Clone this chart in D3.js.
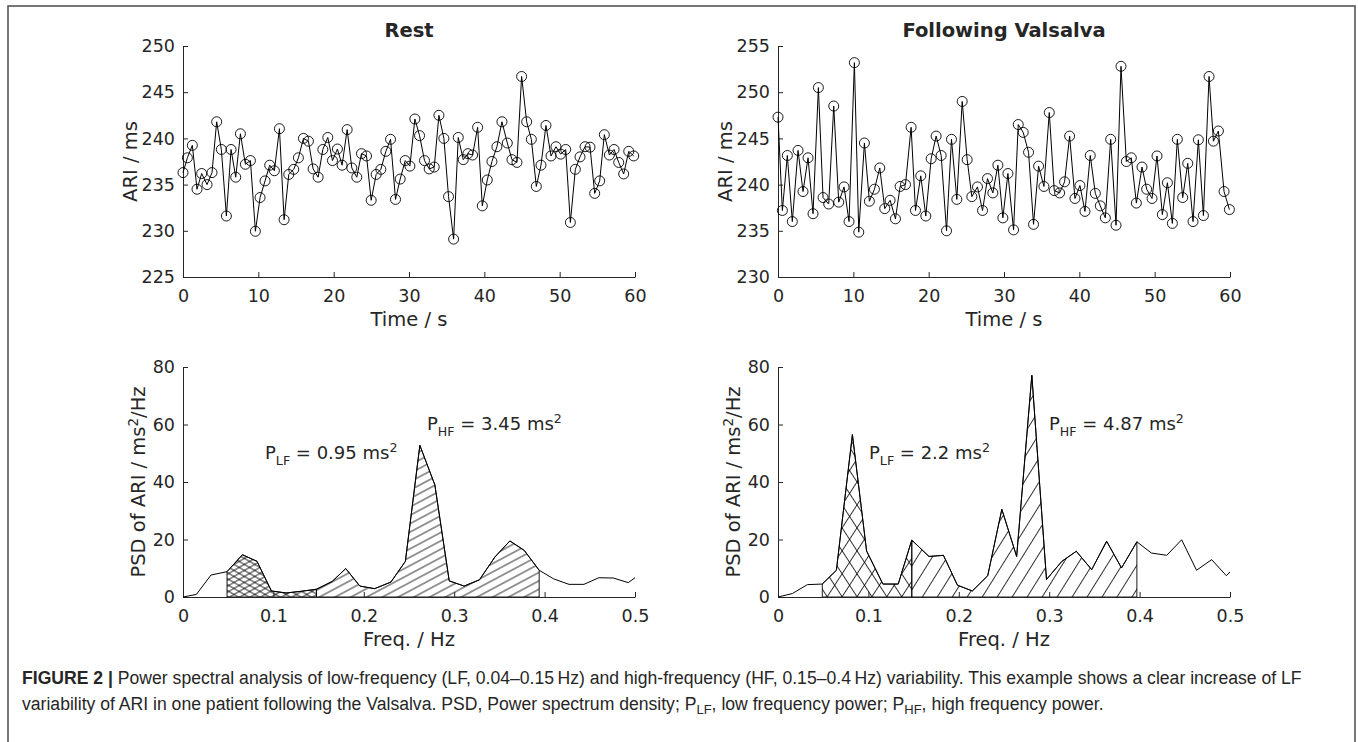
<!DOCTYPE html>
<html>
<head>
<meta charset="utf-8">
<script src="https://cdn.jsdelivr.net/npm/d3@7"></script>
<style>
  html,body{margin:0;padding:0;background:#fff;}
  text{font-family:"DejaVu Sans",sans-serif;fill:#262626;}
  .cap text,.cap{font-family:"Liberation Sans",Arial,sans-serif;}
</style>
</head>
<body>
<div id="chart"></div>
<script>
// ARI beat series, rest
const restTime=[0,0.58,1.24,1.86,2.48,3.19,3.85,4.47,5.09,5.76,6.38,7.00,7.62,8.28,8.95,9.61,10.23,10.89,11.51,12.13,
  12.80,13.42,14.04,14.70,15.32,15.99,16.65,17.27,17.94,18.56,19.22,19.84,20.50,21.12,21.79,22.41,23.07,23.69,24.36,24.98,
  25.64,26.26,26.93,27.55,28.21,28.83,29.50,30.12,30.78,31.40,32.06,32.68,33.35,33.97,34.63,35.25,35.92,36.54,37.20,37.82,
  38.44,39.11,39.73,40.39,41.01,41.67,42.34,43.05,43.67,44.33,44.95,45.62,46.24,46.90,47.52,48.18,48.85,49.51,50.13,50.80,
  51.42,52.08,52.70,53.37,54.03,54.65,55.31,55.93,56.60,57.22,57.84,58.50,59.17,59.83];
const restARI=[236.3,237.9,239.25,234.5,236.2,235.0,236.3,241.8,238.8,231.6,238.8,235.8,240.5,237.2,237.6,229.95,233.6,235.4,237.1,236.5,
  241.05,231.2,236.1,236.65,237.9,240.0,239.7,236.7,235.8,238.8,240.1,237.6,238.85,237.1,240.95,236.8,235.8,238.35,238.1,233.3,
  236.1,236.65,238.6,239.9,233.4,235.6,237.6,237.0,242.1,240.3,237.6,236.7,236.9,242.5,240.0,233.7,229.1,240.1,237.7,238.35,
  238.2,241.2,232.7,235.5,237.5,239.1,241.8,239.5,237.7,237.4,246.7,241.8,239.9,234.8,237.1,241.4,238.1,239.1,238.3,238.8,
  230.9,236.65,238.0,239.1,239.05,234.05,235.4,240.4,238.2,238.8,237.4,236.15,238.6,238.1];

// ARI beat series, following Valsalva
const valsTime=[0,0.58,1.24,1.90,2.66,3.32,3.99,4.65,5.36,5.98,6.73,7.40,8.06,8.77,9.43,10.14,10.72,11.47,12.13,12.80,
  13.51,14.17,14.88,15.59,16.21,16.92,17.67,18.25,18.95,19.62,20.33,20.99,21.66,22.37,23.03,23.74,24.45,25.11,25.73,26.48,
  27.15,27.81,28.52,29.19,29.85,30.52,31.27,31.89,32.55,33.26,33.92,34.59,35.30,36.01,36.67,37.38,38.04,38.71,39.42,40.08,
  40.75,41.45,42.12,42.78,43.45,44.16,44.87,45.53,46.24,46.90,47.57,48.32,48.94,49.65,50.31,51.02,51.69,52.35,53.01,53.72,
  54.39,55.09,55.80,56.47,57.22,57.80,58.46,59.21,59.92];
const valsARI=[247.3,237.2,243.15,236.0,243.7,239.25,242.9,236.85,250.5,238.6,237.9,248.5,238.1,239.75,236.0,253.2,234.85,244.5,238.2,239.5,
  241.8,237.4,238.3,236.3,239.8,240.0,246.2,237.2,240.95,236.6,242.8,245.25,243.15,235.0,244.9,238.4,249.0,242.7,238.7,239.75,
  237.2,240.65,239.1,242.1,236.4,241.2,235.1,246.5,245.65,243.5,235.7,242.0,239.8,247.8,239.35,239.1,240.3,245.25,238.5,239.9,
  237.1,243.15,239.05,237.7,236.4,244.9,235.6,252.8,242.5,242.9,238.0,241.9,239.5,238.5,243.1,236.75,240.2,235.8,244.9,238.6,
  242.3,236.0,244.85,236.65,251.7,244.7,245.8,239.25,237.3];

// PSD, rest
const restFreq=[0,0.0148,0.031,0.0487,0.0657,0.0819,0.0978,0.114,0.131,0.1476,0.165,0.180,0.1956,0.212,0.230,0.246,
  0.262,0.2786,0.2945,0.311,0.328,0.345,0.3616,0.3775,0.394,0.410,0.427,0.4435,0.460,0.476,0.4926,0.5];
const restPSD=[0,0.9,7.65,8.8,14.7,12.4,2.1,1.4,2.0,2.7,5.4,9.9,3.8,2.9,5.2,12.4,
  52.75,39.0,5.6,3.8,6.0,13.9,19.5,16.2,9.3,6.3,4.4,4.4,6.7,6.6,5.0,6.7];
// PSD, following Valsalva
const valsFreq=[0,0.0159,0.0325,0.049,0.0646,0.0823,0.098,0.116,0.133,0.148,0.167,0.183,0.1985,0.215,0.232,0.2476,
  0.264,0.2808,0.297,0.314,0.330,0.347,0.3635,0.380,0.397,0.413,0.430,0.4465,0.463,0.4797,0.496,0.5];
const valsPSD=[0,1.2,4.3,4.5,9.3,56.5,16.0,4.5,4.5,19.8,14.1,14.5,4.1,2.1,7.4,30.5,
  14.1,77.1,6.1,12.4,15.9,9.5,19.4,10.1,19.2,15.3,14.5,19.9,9.3,13.0,7.4,8.7];

// shaded band edges (first / last bin inside each band)
const restLF=[0.0487,0.1476], restHF=[0.1476,0.394];
const valsLF=[0.049,0.148],  valsHF=[0.148,0.397];

const titles=["Rest","Following Valsalva"];
const powerLF=["0.95","2.2"];
const powerHF=["3.45","4.87"];
const timeTicks=[0,10,20,30,40,50,60];
const restTicks=[225,230,235,240,245,250];
const valsTicks=[230,235,240,245,250,255];
const freqTicks=[0,0.1,0.2,0.3,0.4,0.5];
const psdTicks=[0,20,40,60,80];

const W=1358,H=742;
const svg=d3.select("#chart").append("svg").attr("width",W).attr("height",H);

// outer frame
svg.append("rect").attr("x",8).attr("y",6).attr("width",1347).attr("height",800)
   .attr("fill","none").attr("stroke","#555").attr("stroke-width",1.6);

const defs=svg.append("defs");
function hatch(id,rot,gap){
  const p=defs.append("pattern").attr("id",id).attr("patternUnits","userSpaceOnUse")
    .attr("width",gap).attr("height",gap).attr("patternTransform",`rotate(${rot})`);
  p.append("line").attr("x1",gap/2).attr("x2",gap/2).attr("y1",-1).attr("y2",gap+1)
    .attr("stroke","#000").attr("stroke-width",0.8);
}
// left spectra: shallow hatching; right spectra: steep hatching
hatch("lfL1",60,5.2); hatch("lfL2",-60,5.2); hatch("hfL",62,7.4);
hatch("lfR1",33,12.5); hatch("lfR2",-33,12.5); hatch("hfR",32,12.7);

const cols=[{x0:183,x1:635},{x0:778,x1:1230}];
const topY=[46,277], botY=[367,597];

function axes(g,x,y,xt,yt,fmt){
  const ax=g.append("g").attr("transform",`translate(0,${y.range()[0]})`)
    .call(d3.axisBottom(x).tickValues(xt).tickSize(-5).tickSizeOuter(0).tickPadding(8).tickFormat(fmt));
  const ay=g.append("g").attr("transform",`translate(${x.range()[0]},0)`)
    .call(d3.axisLeft(y).tickValues(yt).tickSize(-5).tickSizeOuter(0).tickPadding(8));
  [ax,ay].forEach(a=>{
    a.selectAll("path,line").attr("stroke","#262626");
    a.selectAll("text").attr("fill","#262626").style("font-family","DejaVu Sans").style("font-size","17.5px");
  });
  ax.selectAll("text").attr("dy","0.95em");
}

function timePanel(i,t,v,yt){
  const c=cols[i];
  const x=d3.scaleLinear().domain([0,60]).range([c.x0,c.x1]);
  const y=d3.scaleLinear().domain([yt[0],yt[yt.length-1]]).range([topY[1],topY[0]]);
  const g=svg.append("g");
  axes(g,x,y,timeTicks,yt,d3.format("d"));
  const pts=t.map((d,k)=>[d,v[k]]);
  g.append("path").datum(pts).attr("fill","none").attr("stroke","#000").attr("stroke-width",1)
    .attr("d",d3.line().x(d=>x(d[0])).y(d=>y(d[1])));
  g.selectAll("circle").data(pts).enter().append("circle")
    .attr("cx",d=>x(d[0])).attr("cy",d=>y(d[1])).attr("r",5)
    .attr("fill","none").attr("stroke","#000").attr("stroke-width",0.9);
  g.append("text").attr("x",(c.x0+c.x1)/2).attr("y",37).attr("text-anchor","middle")
    .style("font-size","19.5px").style("font-weight","bold").attr("fill","#000").text(titles[i]);
  g.append("text").attr("x",(c.x0+c.x1)/2).attr("y",topY[1]+49).attr("text-anchor","middle")
    .style("font-size","19.5px").text("Time / s");
  g.append("text").attr("transform",`translate(${c.x0-46},${(topY[0]+topY[1])/2}) rotate(-90)`)
    .attr("text-anchor","middle").style("font-size","19.5px").text("ARI / ms");
}

function psdPanel(i,f,p,lf,hf,pats){
  const c=cols[i];
  const x=d3.scaleLinear().domain([0,0.5]).range([c.x0,c.x1]);
  const y=d3.scaleLinear().domain([0,80]).range([botY[1],botY[0]]);
  const g=svg.append("g");
  const pts=f.map((d,k)=>[d,p[k]]);
  const area=d3.area().x(d=>x(d[0])).y0(y(0)).y1(d=>y(d[1]));
  const band=r=>pts.filter(d=>d[0]>=r[0]-1e-9&&d[0]<=r[1]+1e-9);
  const lfPts=band(lf), hfPts=band(hf);
  [pats[0],pats[1]].forEach(id=>{
    g.append("path").datum(lfPts).attr("d",area).attr("fill",`url(#${id})`).attr("stroke","none");
  });
  g.append("path").datum(hfPts).attr("d",area).attr("fill",`url(#${pats[2]})`).attr("stroke","none");
  [lfPts,hfPts].forEach(b=>{
    g.append("path").datum(b).attr("d",area).attr("fill","none").attr("stroke","#000").attr("stroke-width",0.9);
  });
  axes(g,x,y,freqTicks,psdTicks,d=>d===0?"0":d3.format(".1f")(d));
  g.append("path").datum(pts).attr("fill","none").attr("stroke","#000").attr("stroke-width",1)
    .attr("d",d3.line().x(d=>x(d[0])).y(d=>y(d[1])));
  g.append("text").attr("x",(c.x0+c.x1)/2).attr("y",botY[1]+49).attr("text-anchor","middle")
    .style("font-size","19.5px").text("Freq. / Hz");
  const yl=g.append("text").attr("transform",`translate(${c.x0-38},${(botY[0]+botY[1])/2}) rotate(-90)`)
    .attr("text-anchor","middle").style("font-size","19.5px");
  yl.append("tspan").text("PSD of ARI / ms");
  yl.append("tspan").attr("dy",-7).style("font-size","13.5px").text("2");
  yl.append("tspan").attr("dy",7).text("/Hz");

  function note(tx,ty,sub,val){
    const t=g.append("text").attr("x",tx).attr("y",ty).style("font-size","18px");
    t.append("tspan").text("P");
    t.append("tspan").attr("dy",6).style("font-size","12.6px").text(sub);
    t.append("tspan").attr("dy",-6).text(` = ${val} ms`);
    t.append("tspan").attr("dy",-7).style("font-size","12.6px").text("2");
  }
  const lfPos=i===0?[265,459]:[869,459];
  const hfPos=i===0?[427,430]:[1049,430];
  note(lfPos[0],lfPos[1],"LF",powerLF[i]);
  note(hfPos[0],hfPos[1],"HF",powerHF[i]);
}

timePanel(0,restTime,restARI,restTicks);
timePanel(1,valsTime,valsARI,valsTicks);
psdPanel(0,restFreq,restPSD,restLF,restHF,["lfL1","lfL2","hfL"]);
psdPanel(1,valsFreq,valsPSD,valsLF,valsHF,["lfR1","lfR2","hfR"]);

// caption
const cap=svg.append("g").attr("class","cap").style("font-size","17.6px");
const l1=cap.append("text").attr("x",22).attr("y",684).attr("fill","#333");
l1.append("tspan").style("font-weight","bold").text("FIGURE 2 | ");
l1.append("tspan").text("Power spectral analysis of low-frequency (LF, 0.04\u20130.15\u2009Hz) and high-frequency (HF, 0.15\u20130.4\u2009Hz) variability. This example shows a clear increase of LF");
const l2=cap.append("text").attr("x",22).attr("y",710).attr("fill","#333");
l2.append("tspan").text("variability of ARI in one patient following the Valsalva. PSD, Power spectrum density; P");
l2.append("tspan").attr("dy",4).style("font-size","13px").text("LF");
l2.append("tspan").attr("dy",-4).text(", low frequency power; P");
l2.append("tspan").attr("dy",4).style("font-size","13px").text("HF");
l2.append("tspan").attr("dy",-4).text(", high frequency power.");
</script>
</body>
</html>
